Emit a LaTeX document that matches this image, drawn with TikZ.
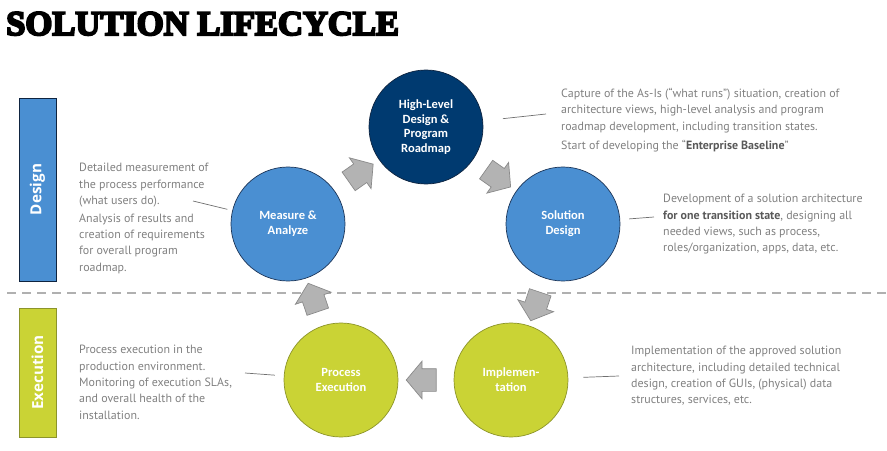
\documentclass[tikz,border=0pt]{standalone}
\usepackage{fontspec}
\setmainfont{PT Sans}
\newfontfamily\circfont{Carlito}
\newfontfamily\bandfont{Open Sans}
\newfontfamily\titlefont[BoldFeatures={FakeBold=6}]{Liberation Serif}
\usetikzlibrary{shapes.arrows,positioning,calc}
\definecolor{navy}{HTML}{003A70}
\definecolor{navydark}{HTML}{0F2440}
\definecolor{skyblue}{HTML}{4A8FD2}
\definecolor{bluedark}{HTML}{1C3558}
\definecolor{lime}{HTML}{CAD335}
\definecolor{limedark}{HTML}{8C942A}
\definecolor{txtgray}{HTML}{808080}
\definecolor{txtdark}{HTML}{595959}
\definecolor{arrfill}{HTML}{B3B3B3}
\definecolor{arrgray}{HTML}{8A8A8A}
\definecolor{linegray}{HTML}{707070}
\definecolor{dashgray}{HTML}{B0B0B0}

\begin{document}
\begin{tikzpicture}[x=0.03cm,y=-0.03cm,
  phase/.style={circle,minimum size=3.42cm,inner sep=0pt,align=center,text=white,
                font=\circfont\bfseries\fontsize{10.7}{12.6}\selectfont,line width=0.6pt},
  desc/.style={anchor=north west,inner sep=0pt,align=left,text=txtgray,
               font=\fontsize{10.2}{14}\selectfont},
  band/.style={rotate=90,minimum height=1.11cm,inner sep=0pt,text=white,
               font=\bandfont\bfseries\fontsize{13}{13}\selectfont,line width=0.8pt},
  flow/.style={single arrow,draw=arrgray,fill=arrfill,minimum height=0.9cm,
               inner xsep=0pt,inner ysep=0.33cm,single arrow head extend=0.225cm,
               single arrow tip angle=100,sloped,allow upside down,line width=0.6pt},
  lead/.style={draw=linegray,line width=0.6pt}
]
\useasboundingbox (0,0) rectangle (887,451);

% title
\node[anchor=base west,inner sep=0pt,font=\titlefont\bfseries\fontsize{29.5}{29.5}\selectfont]
  (title) at (6,35) {SOLUTION LIFECYCLE};

% design / execution split
\draw[dashgray,line width=1.7pt,dash pattern=on 0.27cm off 0.18cm] (7,293) -- (887,293);
\node[band,fill=skyblue,draw=navydark,minimum width=5.49cm] (design) at (37.5,189.5) {Design};
\node[band,fill=lime,draw=limedark,minimum width=3.87cm] (exec) at (37.5,372.5) {Execution};

% phases
\node[phase,fill=navy,draw=navydark] (hld) at (426,127) {High-Level\\Design \&\\Program\\Roadmap};
\node[phase,fill=skyblue,draw=bluedark] (meas) at (288,224) {Measure \&\\Analyze};
\node[phase,fill=skyblue,draw=bluedark] (sold) at (563,224) {Solution\\Design};
\node[phase,fill=lime,draw=limedark] (impl) at (511,380) {Implemen-\\tation};
\node[phase,fill=lime,draw=limedark] (proc) at (341,380) {Process\\Execution};

% cycle arrows
\path (meas) -- node[flow] (f1) {} (hld);
\path (hld) -- node[flow] (f2) {} (sold);
\path (sold) -- node[flow] (f3) {} (impl);
\path (impl) -- node[flow] (f4) {} (proc);
\path (proc) -- node[flow] (f5) {} (meas);

% descriptions
\node[desc] (hldtxt) at (561,88) {Capture of the As-Is (“what runs”) situation, creation of\\
  architecture views, high-level analysis and program\\
  roadmap development, including transition states.\\[2pt]
  Start of developing the “\textbf{\color{txtdark}Enterprise Baseline}”};
\node[desc] (meastxt) at (79,163) {Detailed measurement of\\the process performance\\
  (what users do).\\[1pt]Analysis of results and\\creation of requirements\\
  for overall program\\roadmap.};
\node[desc] (soldtxt) at (663,194) {Development of a solution architecture\\
  \textbf{\color{txtdark}for one transition state}, designing all\\
  needed views, such as process,\\roles/organization, apps, data, etc.};
\node[desc] (proctxt) at (79,345) {Process execution in the\\production environment.\\
  Monitoring of execution SLAs,\\and overall health of the\\installation.};
\node[desc] (impltxt) at (631,346) {Implementation of the approved solution\\
  architecture, including detailed technical\\design, creation of GUIs, (physical) data\\
  structures, services, etc.};

% leader lines
\coordinate (hldend) at (546,114);
\coordinate (measend) at (193,201);
\coordinate (soldend) at (654,217);
\coordinate (procend) at (245,373);
\coordinate (implend) at (619,376);
\draw[lead,shorten <=6mm] (hld) -- (hldend);
\draw[lead,shorten <=1.5mm] (meas) -- (measend);
\draw[lead,shorten <=2.7mm] (sold) -- (soldend);
\draw[lead,shorten <=2.7mm] (proc) -- (procend);
\draw[lead,shorten <=4.5mm] (impl) -- (implend);
\end{tikzpicture}
\end{document}
